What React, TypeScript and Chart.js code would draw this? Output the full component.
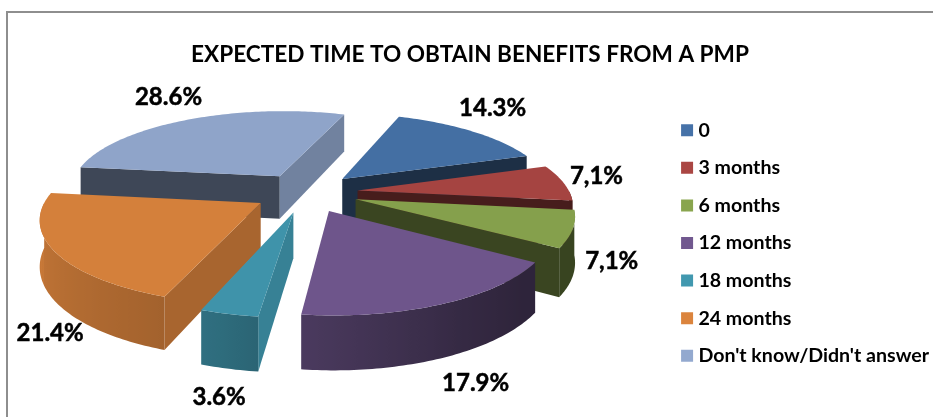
import React, { useEffect, useRef } from "react";
import { Chart, ArcElement, PieController, Legend, Title } from "chart.js";

const categories = ["0", "3 months", "6 months", "12 months", "18 months", "24 months", "Don't know/Didn't answer"];
const shares = [14.3, 7.1, 7.1, 17.9, 3.6, 21.4, 28.6];
const shareLabels = ["14.3%", "7,1%", "7,1%", "17.9%", "3.6%", "21.4%", "28.6%"];
const sliceColors = ["#4672A8", "#AA4643", "#89A54E", "#71588F", "#4198AF", "#DB843D", "#93A9CF"];

const FONT = "Lato, Carlito, Calibri, sans-serif";

// Camera used for the tilted pie: perspective distance, ground flattening and slab thickness.
const VIEW = { distance: 1300, flatten: 0.38, thickness: 44 };
const CENTER = { x: 306, y: 192.5 };
const RADIUS = 212;
const EXPLODE = 52;
const START_ANGLE = 20;
// Distance of each percentage from the rim of its slice, in screen pixels.
const LABEL_NUDGE: [number, number][] = [[21, -23], [33, -6], [39, 32], [32, 80], [-10, 83], [-4, 82], [-20, -22]];

function project(gx: number, gy: number, z = 0) {
  const s = VIEW.distance / (VIEW.distance - gy);
  return { x: CENTER.x + gx * s, y: CENTER.y + VIEW.flatten * gy * s + z * s };
}

function tint(hex: string, f: number) {
  const n = parseInt(hex.slice(1), 16);
  const c = [(n >> 16) & 255, (n >> 8) & 255, n & 255].map((v) => Math.round(v * f));
  return `rgb(${c[0]},${c[1]},${c[2]})`;
}

function lookup(table: number[][], v: number) {
  if (v <= table[0][0]) return table[0][1];
  for (let i = 1; i < table.length; i++) {
    if (v <= table[i][0]) {
      const [a, b] = [table[i - 1], table[i]];
      return a[1] + ((b[1] - a[1]) * (v - a[0])) / (b[0] - a[0]);
    }
  }
  return table[table.length - 1][1];
}

// Brightness of the curved rim and of the flat cut faces, by compass bearing of the surface.
const RIM_SHADE = [[100, 0.41], [130, 0.41], [150, 0.47], [187, 0.66], [202, 0.75], [279, 0.95]];
const CUT_SHADE = [[100, 0.85], [112, 0.75], [163, 0.4], [189, 0.42]];

function bearing(rad: number) {
  const d = (rad * 180) / Math.PI + 90;
  return ((d % 360) + 360) % 360;
}

function polygon(ctx: CanvasRenderingContext2D, pts: { x: number; y: number }[], fill: string | CanvasGradient) {
  ctx.beginPath();
  pts.forEach((p, i) => (i ? ctx.lineTo(p.x, p.y) : ctx.moveTo(p.x, p.y)));
  ctx.closePath();
  ctx.fillStyle = fill;
  ctx.fill();
}

// Arc element that renders as an extruded wedge seen through the camera above.
class Wedge3D extends ArcElement {
  static id = "wedge3d";

  draw(ctx: CanvasRenderingContext2D) {
    const { startAngle, endAngle, outerRadius } = (this as any).getProps(["startAngle", "endAngle", "outerRadius"]);
    const { backgroundColor: color, offset } = (this as any).options;
    const mid = (startAngle + endAngle) / 2;
    const ox = Math.cos(mid) * offset;
    const oy = Math.sin(mid) * offset;
    const rim = (a: number, z = 0) =>
      project(ox + Math.cos(a) * outerRadius, oy + Math.sin(a) * outerRadius, z);
    const h = VIEW.thickness;
    const apex = project(ox, oy);
    const apexLow = project(ox, oy, h);
    const step = Math.PI / 180;

    ctx.save();

    // Only the cut faces turned toward the camera are painted.
    if (rim(startAngle).x < apex.x) {
      polygon(ctx, [apex, rim(startAngle), rim(startAngle, h), apexLow],
        tint(color, lookup(CUT_SHADE, (bearing(startAngle) + 270) % 360)));
    }
    if (rim(endAngle).x > apex.x) {
      polygon(ctx, [apex, rim(endAngle), rim(endAngle, h), apexLow],
        tint(color, lookup(CUT_SHADE, (bearing(endAngle) + 90) % 360)));
    }

    // Visible part of the rim: the half of the circle nearest the camera.
    const samples: number[] = [];
    for (let a = startAngle; a < endAngle; a += step) samples.push(a);
    samples.push(endAngle);
    const visible = samples.filter((a) => Math.sin(a) > 0);
    if (visible.length > 1) {
      const xs = visible.map((a) => rim(a).x);
      const lo = Math.min(...xs);
      const hi = Math.max(...xs);
      const grad = ctx.createLinearGradient(lo, 0, hi, 0);
      visible.forEach((a, i) => {
        grad.addColorStop((xs[i] - lo) / (hi - lo || 1), tint(color, lookup(RIM_SHADE, bearing(a))));
      });
      polygon(ctx, [...visible.map((a) => rim(a)), ...visible.slice().reverse().map((a) => rim(a, h))], grad);
    }

    polygon(ctx, [apex, ...samples.map((a) => rim(a))], tint(color, 0.97));
    ctx.restore();
  }
}

// Pie controller that paints wedges from the far side of the ground plane to the near side.
class Pie3DController extends PieController {
  static id = "pie3d";
  static defaults = { dataElementType: "wedge3d" };

  draw() {
    const ctx = (this as any).chart.ctx;
    const depth = (el: any) => Math.sin((el.startAngle + el.endAngle) / 2);
    [...(this as any)._cachedMeta.data].sort((a, b) => depth(a) - depth(b)).forEach((el) => el.draw(ctx));
  }
}

const framePlugin = {
  id: "frame",
  beforeDraw(chart: Chart) {
    const { ctx } = chart;
    ctx.save();
    ctx.strokeStyle = "#8E8E8E";
    ctx.lineWidth = 2;
    ctx.beginPath();
    ctx.moveTo(7, chart.height + 2);
    ctx.lineTo(7, 12);
    ctx.lineTo(chart.width + 2, 12);
    ctx.stroke();
    ctx.restore();
  },
};

const shareLabelPlugin = {
  id: "shareLabels",
  afterDatasetsDraw(chart: Chart) {
    const { ctx } = chart;
    ctx.save();
    ctx.font = `bold 24px ${FONT}`;
    ctx.fillStyle = "#000";
    ctx.strokeStyle = "#000";
    ctx.lineWidth = 0.5;
    ctx.textAlign = "center";
    ctx.textBaseline = "middle";
    chart.getDatasetMeta(0).data.forEach((el: any, i) => {
      const mid = (el.startAngle + el.endAngle) / 2;
      const reach = el.outerRadius + el.options.offset;
      const p = project(Math.cos(mid) * reach, Math.sin(mid) * reach);
      ctx.fillText(shareLabels[i], p.x + LABEL_NUDGE[i][0], p.y + LABEL_NUDGE[i][1]);
      ctx.strokeText(shareLabels[i], p.x + LABEL_NUDGE[i][0], p.y + LABEL_NUDGE[i][1]);
    });
    ctx.restore();
  },
};

Chart.register(ArcElement, PieController, Wedge3D, Pie3DController, Legend, Title);

export default function App() {
  const ref = useRef<HTMLCanvasElement>(null);
  useEffect(() => {
    const chart = new Chart(ref.current!, {
      type: "pie3d" as any,
      data: {
        labels: categories,
        datasets: [
          {
            data: shares,
            backgroundColor: sliceColors,
            borderWidth: 0,
            offset: EXPLODE,
            radius: RADIUS,
            clip: false,
          } as any,
        ],
      },
      options: {
        animation: false,
        responsive: false,
        maintainAspectRatio: false,
        rotation: START_ANGLE,
        layout: { padding: { left: 1, right: -6, top: 41, bottom: -28 } },
        plugins: {
          title: {
            display: true,
            text: "EXPECTED TIME TO OBTAIN BENEFITS FROM A PMP",
            color: "#000",
            font: { family: FONT, size: 22.6, weight: "bold" },
            padding: { top: 0, bottom: 10 },
          },
          legend: {
            position: "right",
            labels: {
              color: "#000",
              boxWidth: 3,
              boxHeight: 12,
              usePointStyle: true,
              pointStyle: "rect",
              padding: 18,
              font: { family: FONT, size: 19.6, weight: "bold" },
            },
          },
          tooltip: { enabled: false },
        },
      } as any,
      plugins: [framePlugin, shareLabelPlugin],
    });
    return () => chart.destroy();
  }, []);
  return (
    <div style={{ position: "absolute", left: 0, top: 0, width: 933, height: 417, background: "#fff", overflow: "hidden" }}>
      <canvas ref={ref} width={933} height={417} style={{ display: "block" }} />
    </div>
  );
}
